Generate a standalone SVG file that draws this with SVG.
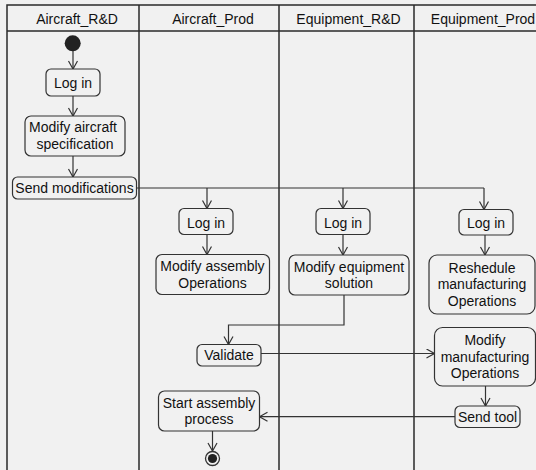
<svg xmlns="http://www.w3.org/2000/svg" width="536" height="470" viewBox="0 0 536 470">
<defs>
<marker id="arr" markerUnits="userSpaceOnUse" markerWidth="12" markerHeight="12" refX="9" refY="5" orient="auto">
<path d="M1,0.5 L9,5 L1,9.5" fill="none" stroke="#333" stroke-width="1.2"/>
</marker>
</defs>
<style>
.lane{stroke:#2a2a2a;stroke-width:1.5;fill:none}
.box{fill:#f1f1f1;stroke:#333;stroke-width:1.2}
.t{font-family:"Liberation Sans",Arial,sans-serif;font-size:14px;fill:#111;text-anchor:middle}
.c{fill:none;stroke:#333;stroke-width:1.2}
.ca{fill:none;stroke:#333;stroke-width:1.2;marker-end:url(#arr)}
</style>
<rect x="0" y="0" width="536" height="470" fill="#f1f1f1"/>
<g id="lanes">
<path class="lane" d="M7,470 V5 H540 M7,31 H540 M139,5 V470 M279,5 V470 M414,5 V470"/>
<text class="t" x="77" y="24">Aircraft_R&amp;D</text>
<text class="t" x="213" y="24">Aircraft_Prod</text>
<text class="t" x="348.5" y="24">Equipment_R&amp;D</text>
<text class="t" x="483" y="24">Equipment_Prod</text>
</g>
<g id="connectors">
<line class="ca" x1="73" y1="51" x2="73" y2="69"/>
<line class="ca" x1="73" y1="96" x2="73" y2="116"/>
<line class="ca" x1="73" y1="156" x2="73" y2="177"/>
<line class="c" x1="136.5" y1="188" x2="484" y2="188"/>
<line class="ca" x1="207" y1="188" x2="207" y2="208.5"/>
<line class="ca" x1="343" y1="188" x2="343" y2="208.5"/>
<line class="ca" x1="484" y1="188" x2="484" y2="209.5"/>
<line class="ca" x1="207" y1="234.5" x2="207" y2="254.5"/>
<line class="ca" x1="343" y1="234.5" x2="343" y2="255"/>
<line class="ca" x1="485" y1="235" x2="485" y2="255"/>
<polyline class="ca" points="344,295 344,325 228.5,325 228.5,344.5"/>
<line class="ca" x1="261" y1="353.5" x2="434.5" y2="353.5"/>
<line class="ca" x1="485.5" y1="386" x2="485.5" y2="406"/>
<line class="ca" x1="455" y1="416.7" x2="259.5" y2="416.7"/>
<line class="ca" x1="212.5" y1="431" x2="212.5" y2="451"/>
</g>
<g id="start"><circle cx="72.7" cy="43.3" r="8" fill="#222"/></g>
<g id="login1"><rect class="box" x="46" y="69" width="54" height="27" rx="5"/><text class="t" x="73" y="88">Log in</text></g>
<g id="modifyAircraft"><rect class="box" x="25" y="116" width="100" height="40" rx="6"/><text class="t" x="73" y="132">Modify aircraft</text><text class="t" x="75" y="149">specification</text></g>
<g id="sendMods"><rect class="box" x="12.5" y="177" width="124" height="22" rx="5"/><text class="t" x="74.5" y="193">Send modifications</text></g>
<g id="login2"><rect class="box" x="179" y="208.5" width="54" height="26" rx="5"/><text class="t" x="206" y="227.5">Log in</text></g>
<g id="modifyAssembly"><rect class="box" x="156" y="254.5" width="113.5" height="40" rx="6"/><text class="t" x="212.5" y="271">Modify assembly</text><text class="t" x="212.5" y="287.5">Operations</text></g>
<g id="login3"><rect class="box" x="316" y="208.5" width="54" height="26" rx="5"/><text class="t" x="343" y="227.5">Log in</text></g>
<g id="modifyEquipment"><rect class="box" x="289" y="255" width="120" height="40" rx="6"/><text class="t" x="349" y="271.7">Modify equipment</text><text class="t" x="349" y="288">solution</text></g>
<g id="login4"><rect class="box" x="459" y="209.5" width="54" height="25.5" rx="5"/><text class="t" x="486" y="228">Log in</text></g>
<g id="reshedule"><rect class="box" x="429" y="255" width="106" height="59" rx="8"/><text class="t" x="482" y="272.7">Reshedule</text><text class="t" x="482" y="289.3">manufacturing</text><text class="t" x="482" y="306">Operations</text></g>
<g id="validate"><rect class="box" x="197" y="344.5" width="64" height="21.5" rx="5"/><text class="t" x="229" y="360">Validate</text></g>
<g id="modifyManufacturing"><rect class="box" x="434.5" y="327.5" width="101" height="58.5" rx="8"/><text class="t" x="485" y="345">Modify</text><text class="t" x="485" y="361.7">manufacturing</text><text class="t" x="485" y="378.3">Operations</text></g>
<g id="sendTool"><rect class="box" x="455" y="406" width="65" height="21.5" rx="5"/><text class="t" x="487.5" y="421.7">Send tool</text></g>
<g id="startAssembly"><rect class="box" x="158.5" y="391" width="101" height="40" rx="6"/><text class="t" x="209" y="407.7">Start assembly</text><text class="t" x="209" y="424">process</text></g>
<g id="end"><circle cx="212.5" cy="458.5" r="7" fill="none" stroke="#333" stroke-width="1.3"/><circle cx="212.5" cy="458.5" r="4.6" fill="#222"/></g>
</svg>
